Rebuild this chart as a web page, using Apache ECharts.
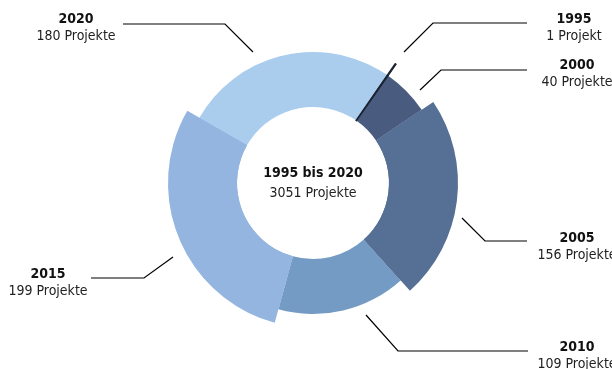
<!DOCTYPE html>
<html>
<head>
<meta charset="utf-8">
<script src="https://cdn.jsdelivr.net/npm/echarts@6/dist/echarts.min.js"></script>
<style>html,body{margin:0;padding:0;background:#fff}#c{width:612px;height:369px}</style>
</head>
<body>
<div id="c"></div>
<script>
var years = ['1995', '2000', '2005', '2010', '2015', '2020'];
var projects = [1, 40, 156, 109, 199, 180];
var colors = ['#1c2433', '#495c80', '#566f95', '#739bc3', '#93b5e0', '#aacdee'];
var highlighted = [true, false, true, false, true, false];
var centerTitle = '1995 bis 2020';
var centerTotal = '3051 Projekte';

var FONT = "'DejaVu Sans Condensed','Liberation Sans Narrow','Roboto Condensed',sans-serif";
// label placement (layout, not data)
var labelPos = [
  {x: 574, y: 28, pts: [[404, 52], [433, 23], [527, 23]]},
  {x: 577, y: 74, pts: [[420, 90], [441, 70], [527, 70]]},
  {x: 577, y: 247, pts: [[462, 218], [485, 241], [527, 241]]},
  {x: 577, y: 356, pts: [[366, 315], [398, 351], [528, 351]]},
  {x: 48, y: 283, pts: [[173, 257], [144, 278], [91, 278]]},
  {x: 76, y: 28, pts: [[253, 52], [225, 24], [123, 24]]}
];

var baseData = years.map(function (y, i) {
  return {name: y, value: projects[i], itemStyle: {color: colors[i], borderColor: colors[i], borderWidth: i === 0 ? 1.1 : 0}};
});
var bigData = years.map(function (y, i) {
  return {name: y, value: projects[i], itemStyle: highlighted[i] ? {color: colors[i], borderColor: colors[i], borderWidth: i === 0 ? 1.1 : 0} : {color: 'rgba(0,0,0,0)', borderWidth: 0}};
});

var chart = echarts.init(document.getElementById('c'), null, {renderer: 'canvas'});
chart.setOption({
  animation: false,
  backgroundColor: '#fff',
  graphic: [{
    type: 'text', z: 100,
    x: 313, y: 183,
    style: {
      text: '{a|' + centerTitle + '}\n{b|' + centerTotal + '}',
      align: 'center', verticalAlign: 'middle',
      rich: {
        a: {fontFamily: FONT, fontWeight: 'bold', fontSize: 14, lineHeight: 20, fill: '#111', align: 'center'},
        b: {fontFamily: FONT, fontSize: 14, lineHeight: 20, fill: '#222', align: 'center'}
      }
    }
  }],
  series: [
    {
      type: 'pie', silent: true, center: [313, 183], radius: [76, 131],
      startAngle: 55.5, clockwise: true, avoidLabelOverlap: false,
      data: baseData,
      label: {
        show: true,
        formatter: function (p) {
          return '{y|' + p.name + '}\n{p|' + p.value + (p.value === 1 ? ' Projekt' : ' Projekte') + '}';
        },
        rich: {
          y: {fontFamily: FONT, fontWeight: 'bold', fontSize: 14, lineHeight: 17, color: '#111', align: 'center'},
          p: {fontFamily: FONT, fontSize: 14, lineHeight: 17, color: '#222', align: 'center'}
        }
      },
      labelLine: {show: true, lineStyle: {color: '#000', width: 1.2}},
      labelLayout: function (params) {
        var lp = labelPos[params.dataIndex];
        return {x: lp.x, y: lp.y, align: 'center', verticalAlign: 'middle', labelLinePoints: lp.pts};
      }
    },
    {
      type: 'pie', silent: true, center: [313, 183], radius: [76, 145],
      startAngle: 55.5, clockwise: true,
      data: bigData,
      label: {show: false}, labelLine: {show: false}
    }
  ]
});
</script>
</body>
</html>
